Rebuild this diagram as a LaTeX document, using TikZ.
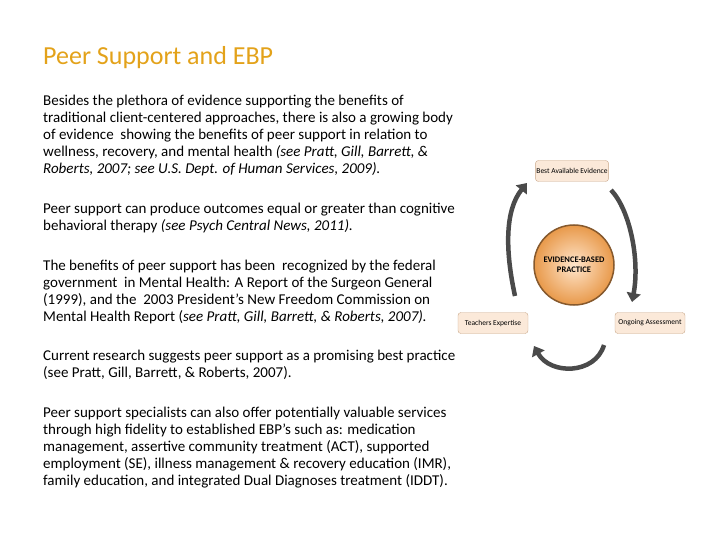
\documentclass[tikz,border=0pt]{standalone}
\usepackage{fontspec}
\setmainfont{Carlito}
\usetikzlibrary{arrows.meta,shapes.geometric}
\definecolor{titlecol}{HTML}{E3A21A}
\definecolor{boxfill}{HTML}{FBE9D9}
\definecolor{boxline}{HTML}{C9A88A}
\definecolor{arrowcol}{HTML}{4A4A4A}
\begin{document}
\begin{tikzpicture}[x=1pt,y=-1pt,
  para/.style={anchor=north west,align=left,font=\fontsize{15}{17}\selectfont,inner sep=0pt},
  label box/.style={draw=boxline,fill=boxfill,rounded corners=3pt,minimum width=70pt,minimum height=21pt,font=\fontsize{7.5}{8}\selectfont,inner sep=1pt},
  cyc/.style={draw=arrowcol,line width=4.5pt,-{Triangle[length=9pt,width=14pt]}}]
\useasboundingbox (0,0) rectangle (720,540);
\node[anchor=west,text=titlecol,font=\fontsize{26}{28}\selectfont,inner sep=0pt] (title) at (43,58) {Peer Support and EBP};
\node[para] (p1) at (43,95) {Besides the plethora of evidence supporting the benefits of\\traditional client-centered approaches, there is also a growing body\\of evidence\ \ showing the benefits of peer support in relation to\\wellness, recovery, and mental health \textit{(see Pratt, Gill, Barrett, \&}\\\textit{Roberts, 2007; see U.S. Dept. of Human Services, 2009).}};
\node[para] (p2) at (43,203) {Peer support can produce outcomes equal or greater than cognitive\\behavioral therapy \textit{(see Psych Central News, 2011).}};
\node[para] (p3) at (43,260) {The benefits of peer support has been\ \ recognized by the federal\\government\ \ in Mental Health: A Report of the Surgeon General\\(1999), and the\ \ 2003 President’s New Freedom Commission on\\Mental Health Report (\textit{see Pratt, Gill, Barrett, \& Roberts, 2007).}};
\node[para] (p4) at (43,350) {Current research suggests peer support as a promising best practice\\(see Pratt, Gill, Barrett, \& Roberts, 2007).};
\node[para] (p5) at (43,407) {Peer support specialists can also offer potentially valuable services\\through high fidelity to established EBP’s such as: medication\\management, assertive community treatment (ACT), supported\\employment (SE), illness management \& recovery education (IMR),\\family education, and integrated Dual Diagnoses treatment (IDDT).};
% diagram
\node[draw=brown!70!black,line width=1.5pt,circle,minimum size=80pt,inner sep=0pt,
  inner color=orange!20,outer color=orange!55!brown!80,font=\fontsize{8.5}{10}\selectfont\bfseries,align=center] (ebp) at (574,265) {EVIDENCE-BASED\\PRACTICE};
\node[label box] (bae) at (572,171) {Best Available Evidence};
\node[label box] (te) at (493,323) {Teachers Expertise};
\node[label box] (oa) at (650,323) {Ongoing Assessment};
\coordinate (a1s) at (515,296);
\coordinate (a1e) at (527,183);
\coordinate (a2s) at (611,190);
\coordinate (a2e) at (632,302);
\coordinate (a3s) at (604,345);
\coordinate (a3e) at (534,346);
\draw[cyc] (a1s) .. controls (505,250) and (505,210) .. (a1e);
\draw[cyc] (a2s) .. controls (630,210) and (640,260) .. (a2e);
\draw[cyc] (a3s) .. controls (595,375) and (550,375) .. (a3e);
\end{tikzpicture}
\end{document}
